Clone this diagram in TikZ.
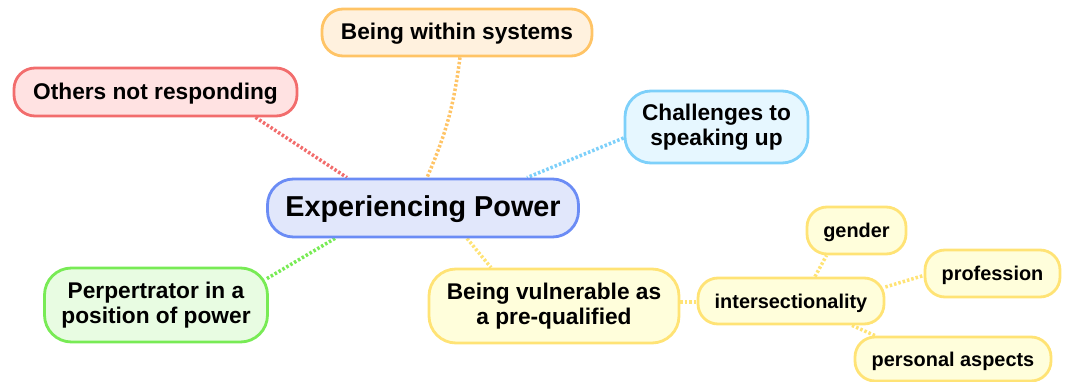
\documentclass[tikz,border=0pt]{standalone}
\usepackage{fontspec}
\setmainfont{Liberation Sans}
\usetikzlibrary{backgrounds}
\definecolor{cblue}{HTML}{6B8CF5}
\definecolor{cbluef}{HTML}{E1E7FB}
\definecolor{corange}{HTML}{FFC466}
\definecolor{corangef}{HTML}{FFF1DE}
\definecolor{cred}{HTML}{F26D6D}
\definecolor{credf}{HTML}{FFE2E2}
\definecolor{ccyan}{HTML}{7DD0FA}
\definecolor{ccyanf}{HTML}{E6F7FF}
\definecolor{cgreen}{HTML}{78EB55}
\definecolor{cgreenf}{HTML}{E8FCE2}
\definecolor{cyellow}{HTML}{FFE375}
\definecolor{cyellowf}{HTML}{FFFEDB}
\begin{document}
\begin{tikzpicture}[x=1pt,y=-1pt,
  box/.style={draw, line width=2.8pt, inner sep=0pt, align=center},
  mainbox/.style={box, text height=22pt, text depth=4pt, rounded corners=26pt, font=\bfseries\fontsize{28.8}{34}\selectfont},
  secbox/.style={box, font=\bfseries\fontsize{22.7}{25}\selectfont},
  secone/.style={text height=18pt, text depth=3pt},
  terbox/.style={box, text height=16pt, text depth=1.5pt, rounded corners=20pt, font=\bfseries\fontsize{19.9}{23}\selectfont},
  conn/.style={line width=3.5pt, dash pattern=on 2.5pt off 2pt}]
\useasboundingbox (0,0) rectangle (1066,382);

\node[mainbox, draw=cblue, fill=cbluef, minimum width=311pt, minimum height=58pt] (ctr) at (423,208) {Experiencing Power};

\node[secbox, secone, draw=corange, fill=corangef, minimum width=270pt, minimum height=47pt, rounded corners=21pt] (bws) at (457,32.5) {Being within systems};
\node[secbox, secone, draw=cred, fill=credf, minimum width=283pt, minimum height=48pt, rounded corners=21pt] (oth) at (155.5,92) {Others not responding};
\node[secbox, draw=ccyan, fill=ccyanf, minimum width=183pt, minimum height=72pt, rounded corners=26pt] (chl) at (716.5,127) {Challenges to\\speaking up};
\node[secbox, draw=cgreen, fill=cgreenf, minimum width=223pt, minimum height=74pt, rounded corners=27pt] (per) at (156,305) {Perpertrator in a\\position of power};
\node[secbox, draw=cyellow, fill=cyellowf, minimum width=250pt, minimum height=74pt, rounded corners=27pt] (vul) at (554,306) {Being vulnerable as\\a pre-qualified};

\node[terbox, draw=cyellow, fill=cyellowf, minimum width=186pt, minimum height=46pt] (int) at (791,301) {intersectionality};
\node[terbox, draw=cyellow, fill=cyellowf, minimum width=99pt, minimum height=47pt] (gen) at (856.5,230.5) {gender};
\node[terbox, draw=cyellow, fill=cyellowf, minimum width=135pt, minimum height=47pt] (pro) at (992.5,273.5) {profession};
\node[terbox, draw=cyellow, fill=cyellowf, minimum width=196pt, minimum height=44pt] (pas) at (953,359) {personal aspects};

\begin{scope}[on background layer]
\draw[conn, cred] ([xshift=100pt]oth.south) -- ([xshift=-76pt]ctr.north);
\draw[conn, corange] ([xshift=3pt]bws.south) to[bend left=8] ([xshift=4pt]ctr.north);
\draw[conn, ccyan] ([yshift=-11pt]chl.west) -- ([xshift=104pt]ctr.north);
\draw[conn, cgreen] ([xshift=-88pt]ctr.south) -- ([xshift=-2pt,yshift=-12pt]per.north east);
\draw[conn, cyellow] ([xshift=44pt]ctr.south) -- ([xshift=-63pt]vul.north);
\draw[conn, cyellow] ([yshift=4pt]vul.east) -- ([yshift=-1pt]int.west);
\draw[conn, cyellow] ([xshift=24pt]int.north) -- ([xshift=-30pt]gen.south);
\draw[conn, cyellow] ([yshift=14pt]int.east) -- ([yshift=-2pt]pro.west);
\draw[conn, cyellow] ([xshift=61pt]int.south) -- ([xshift=-78pt]pas.north);
\end{scope}
\end{tikzpicture}
\end{document}
